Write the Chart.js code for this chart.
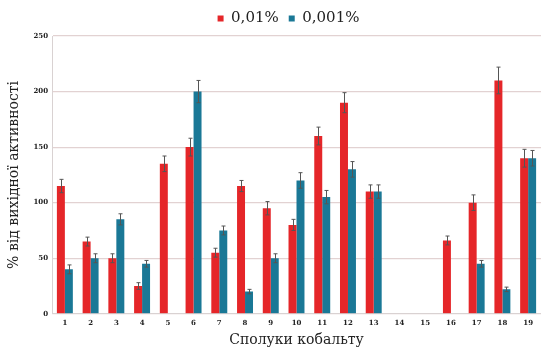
<!DOCTYPE html>
<html>
<head>
<meta charset="utf-8">
<script src="https://cdn.jsdelivr.net/npm/chart.js@4/dist/chart.umd.min.js"></script>
<style>
  html, body { margin: 0; padding: 0; background: #fff; }
  #wrap { width: 541px; height: 349px; }
</style>
</head>
<body>
<div id="wrap"><canvas id="c"></canvas></div>
<script>
// Cobalt compounds 1..19
const compounds = ['1','2','3','4','5','6','7','8','9','10','11','12','13','14','15','16','17','18','19'];
const seriesNames = ['0,01%', '0,001%'];
// % of initial activity
const conc001 = [115, 65, 50, 25, 135, 150, 55, 115, 95, 80, 160, 190, 110, null, null, 66, 100, 210, 140];
const conc0001 = [40, 50, 85, 45, null, 200, 75, 20, 50, 120, 105, 130, 110, null, null, null, 45, 22, 140];
// standard deviation
const err001 = [6, 4, 4, 3, 7, 8, 4, 5, 6, 5, 8, 9, 6, null, null, 4, 7, 12, 8];
const err0001 = [4, 4, 5, 3, null, 10, 4, 2, 4, 7, 6, 7, 6, null, null, null, 3, 2, 7];
const yTicks = [0, 50, 100, 150, 200, 250];

const RED = '#e52629';
const BLUE = '#1a7896';

const errorBars = {
  id: 'errorBars',
  afterDatasetsDraw(chart) {
    const ctx = chart.ctx;
    const y = chart.scales.y;
    const errs = [err001, err0001];
    ctx.save();
    ctx.strokeStyle = '#555';
    ctx.lineWidth = 1;
    chart.data.datasets.forEach((ds, i) => {
      const meta = chart.getDatasetMeta(i);
      meta.data.forEach((bar, j) => {
        const v = ds.data[j], e = errs[i][j];
        if (v == null || e == null) return;
        const x = Math.round(bar.x) + 0.5;
        const top = y.getPixelForValue(v + e);
        const bot = y.getPixelForValue(v - e);
        ctx.beginPath();
        ctx.moveTo(x, top); ctx.lineTo(x, bot);
        ctx.moveTo(x - 2, top); ctx.lineTo(x + 2, top);
        ctx.moveTo(x - 2, bot); ctx.lineTo(x + 2, bot);
        ctx.stroke();
      });
    });
    ctx.restore();
  }
};

// center the legend over the plot area
const legendOverPlot = {
  id: 'legendOverPlot',
  afterLayout(chart) {
    const lg = chart.legend, ca = chart.chartArea;
    if (!lg || !ca) return;
    lg.left = ca.left - 8; lg.right = ca.right - 8; lg.width = ca.right - ca.left;
    lg.adjustHitBoxes();
  }
};

new Chart(document.getElementById('c'), {
  type: 'bar',
  data: {
    labels: compounds,
    datasets: [
      { label: seriesNames[0], data: conc001, backgroundColor: RED },
      { label: seriesNames[1], data: conc0001, backgroundColor: BLUE }
    ]
  },
  options: {
    responsive: true,
    maintainAspectRatio: false,
    animation: false,
    layout: { padding: { top: 1, right: 0, bottom: 0, left: 6 } },
    datasets: { bar: { categoryPercentage: 0.62, barPercentage: 1.0 } },
    plugins: {
      legend: {
        position: 'top',
        labels: {
          usePointStyle: true,
          pointStyle: 'rect',
          boxWidth: 6,
          boxHeight: 6,
          padding: 10,
          color: '#222',
          font: { family: 'DejaVu Serif', size: 15 }
        }
      },
      tooltip: { enabled: false }
    },
    scales: {
      x: {
        grid: { display: false, drawTicks: false },
        border: { color: '#d9d2d2' },
        ticks: { color: '#222', padding: 5, font: { family: 'DejaVu Serif', size: 7, weight: 'bold' } },
        title: { display: true, text: 'Сполуки кобальту', color: '#222', padding: { top: 0, bottom: 0 },
                 font: { family: 'DejaVu Serif', size: 14 } }
      },
      y: {
        min: 0, max: 250,
        afterBuildTicks(scale) { scale.ticks = yTicks.map(v => ({ value: v })); },
        afterFit(scale) { scale.width = 46; },
        grid: { color: '#e2d2d2', lineWidth: 1.2, drawTicks: false },
        border: { color: '#d9d2d2' },
        ticks: { color: '#222', padding: 4, font: { family: 'DejaVu Serif', size: 7, weight: 'bold' } },
        title: { display: true, text: '% від вихідної активності', color: '#222', padding: { top: 0, bottom: 6 },
                 font: { family: 'DejaVu Serif', size: 14 } }
      }
    }
  },
  plugins: [errorBars, legendOverPlot]
});
</script>
</body>
</html>
